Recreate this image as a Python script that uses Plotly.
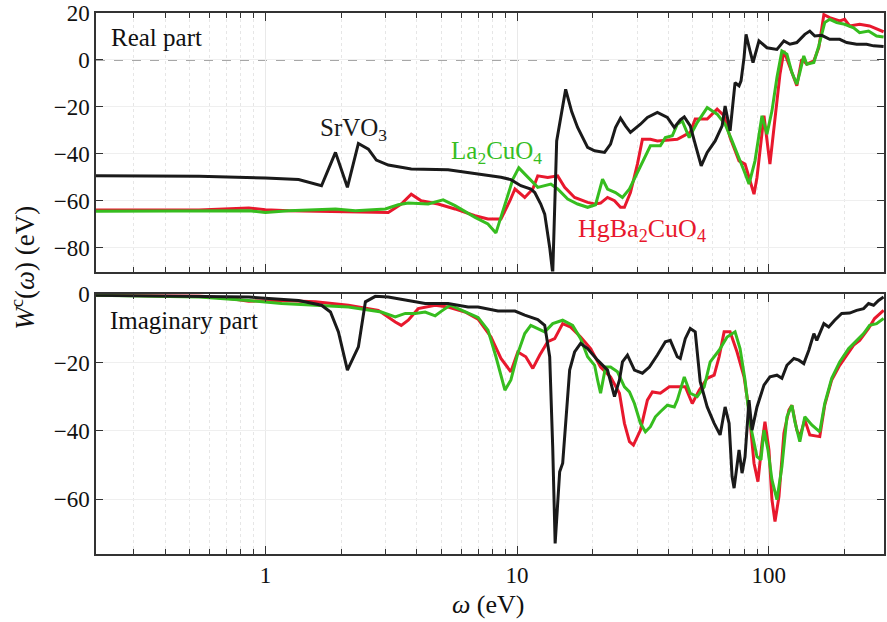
import plotly.graph_objects as go

# ---------------- data (omega in eV, W^c in eV) ----------------
sr_re_w = [0.212, 0.545, 1.0, 1.355, 1.671, 1.899, 2.118, 2.342, 2.566, 2.760, 3.079, 3.798, 5.32, 7.19,
           8.63, 9.45, 10.35, 11.34, 11.76, 12.42, 12.88, 13.48, 13.86, 14.37, 15.6, 16.48, 17.4, 19.07,
           20.33, 22.27, 23.52, 24.61, 25.76, 26.96, 28.22, 30.92, 32.95, 36.1, 39.54, 42.15, 44.52,
           46.18, 48.77, 51.04, 53.91, 56.95, 61.26, 65.28, 67.09, 70.22, 73.49, 76.22, 77.62, 79.78,
           81.24, 84.27, 86.61, 91.46, 98.38, 107.8, 114.9, 121.4, 129.3, 139.1, 145.6, 152.4, 162.4,
           174.7, 191.4, 204.0, 223.5, 244.8, 261.0, 286.0]
sr_re_v = [-49.4, -49.6, -50.3, -51.0, -53.6, -39.4, -54.3, -35.6, -38.0, -42.7, -44.8, -46.5, -46.8, -48.6,
           -50.0, -51.0, -53.6, -55.0, -56.5, -61.4, -65.7, -79.9, -91.0, -34.5, -12.5, -22.0, -28.8, -37.3,
           -38.7, -39.4, -35.9, -28.8, -24.8, -28.1, -30.9, -27.4, -24.5, -22.4, -24.5, -28.8, -25.5,
           -24.3, -28.1, -35.9, -45.1, -39.4, -34.5, -28.1, -19.6, -30.2, -9.7, -11.0, -8.9, 1.0,
           10.9, 3.8, -1.1, 8.1, 5.2, 4.5, 8.1, 6.7, 7.4, 10.9, 12.3, 10.2, 10.5,
           8.8, 8.8, 7.4, 6.7, 6.7, 6.0, 5.7]

hg_re_w = [0.212, 0.545, 0.859, 1.0, 1.237, 1.951, 3.079, 3.467, 3.798, 4.16, 4.858, 5.67, 6.81, 7.66, 8.63,
           9.37, 9.81, 10.73, 11.55, 12.085, 13.24, 14.5, 15.46, 16.93, 19.07, 20.33, 21.47, 22.88, 24.39,
           25.76, 26.71, 28.22, 30.08, 31.49, 33.87, 36.1, 39.54, 43.32, 48.77, 51.04, 56.95, 62.37, 66.49,
           70.22, 76.22, 80.5, 84.27, 87.4, 89.81, 95.74, 101.1, 105.9, 110.8, 114.9, 121.4, 129.3, 135.3,
           141.7, 151.1, 158.1, 165.6, 174.7, 191.4, 200.3, 209.7, 229.7, 251.6, 268.2, 286.0]
hg_re_v = [-64.0, -64.0, -63.1, -63.8, -64.3, -64.5, -65.0, -61.4, -57.2, -60.0, -61.4, -63.5, -66.4, -67.8, -67.8,
           -60.0, -55.0, -58.6, -55.0, -49.4, -50.1, -49.4, -54.3, -58.6, -60.7, -61.4, -61.0, -58.6, -60.0,
           -62.8, -62.8, -56.5, -44.4, -33.8, -33.8, -34.5, -34.0, -33.8, -30.9, -25.2, -25.2, -21.0, -23.8,
           -33.1, -43.0, -44.4, -51.5, -57.2, -50.1, -23.8, -44.4, -26.0, -6.1, 3.8, -3.3, -11.0, 0.3,
           -1.8, -0.4, 5.2, 19.3, 18.0, 16.6, 17.3, 14.5, 15.2, 14.5, 13.1, 12.0]

la_re_w = [0.212, 0.859, 1.0, 1.237, 1.899, 2.279, 2.996, 3.373, 3.695, 4.434, 5.085, 5.67, 6.81, 7.66, 8.244,
           8.869, 9.37, 9.628, 10.16, 11.23, 12.085, 13.62, 14.5, 15.89, 17.4, 19.07, 20.51, 21.86, 22.88,
           24.61, 26.23, 27.97, 30.08, 32.07, 33.87, 37.1, 38.83, 41.39, 43.32, 45.34, 48.32, 51.98, 56.95,
           62.37, 67.09, 71.51, 76.22, 79.78, 83.5, 88.19, 94.0, 98.38, 103.0, 107.8, 112.8, 118.1, 123.6,
           129.3, 132.9, 137.8, 141.7, 151.1, 158.1, 166.9, 174.7, 186.2, 200.3, 217.5, 229.7, 249.3, 268.2, 286.0]
la_re_v = [-64.5, -64.3, -65.0, -64.3, -63.5, -64.3, -63.5, -61.7, -61.0, -61.4, -59.6, -62.1, -67.1, -69.9, -73.7,
           -63.0, -54.3, -50.8, -46.0, -50.8, -54.3, -52.9, -55.0, -59.3, -61.4, -62.8, -61.7, -50.8, -55.0,
           -56.5, -58.6, -55.0, -47.9, -41.6, -36.6, -36.6, -33.1, -32.3, -27.4, -26.0, -33.1, -26.7, -20.3,
           -23.1, -27.4, -34.5, -41.6, -47.2, -52.9, -43.0, -23.8, -31.6, -21.7, -7.5, 3.8, 2.4, -5.4,
           -10.3, -5.4, 1.7, -1.8, -1.1, 6.0, 15.9, 17.3, 15.9, 15.2, 13.7, 11.6, 12.3, 10.2, 9.8]

sr_im_w = [0.212, 0.859, 1.355, 1.671, 1.814, 1.951, 2.118, 2.342, 2.497, 2.735, 3.079, 3.695, 4.314, 5.32,
           6.387, 7.0, 8.396, 9.81, 10.73, 12.085, 12.88, 13.48, 13.86, 14.17, 14.5, 14.77, 15.18, 15.6,
           16.18, 16.93, 17.89, 19.07, 20.89, 22.88, 24.39, 25.52, 26.23, 27.46, 29.27, 31.49, 33.56, 36.1,
           38.83, 40.64, 43.32, 44.52, 46.6, 48.77, 51.04, 53.43, 56.95, 60.71, 64.1, 67.09, 69.58, 71.51,
           72.83, 76.22, 78.33, 80.5, 83.5, 85.82, 89.81, 95.74, 101.1, 107.8, 112.8, 118.1, 125.9, 131.7,
           137.8, 144.3, 151.1, 155.2, 165.6, 173.1, 182.8, 194.9, 209.7, 223.5, 238.2, 249.3, 261.0, 273.1, 286.0]
sr_im_v = [-0.3, -0.8, -1.8, -3.2, -5.2, -11.0, -22.2, -15.4, -2.2, -0.6, -0.8, -1.8, -2.7, -2.7,
           -3.7, -3.7, -4.9, -4.9, -6.1, -7.4, -9.1, -18.3, -45.0, -73.0, -62.0, -52.0, -49.5, -37.8,
           -22.2, -16.9, -14.4, -15.9, -19.3, -22.2, -30.0, -25.1, -19.8, -17.8, -22.2, -23.1, -21.3, -17.8,
           -13.9, -13.5, -18.3, -18.8, -13.0, -10.0, -11.0, -25.6, -33.0, -37.8, -41.2, -33.0, -37.8, -53.4,
           -56.8, -45.6, -52.4, -47.6, -31.0, -39.8, -33.0, -26.6, -24.2, -23.7, -24.6, -20.8, -18.8, -19.3,
           -20.3, -16.4, -11.5, -13.5, -8.6, -9.6, -7.6, -5.6, -5.5, -4.7, -4.2, -2.7, -3.2, -1.8, -0.8]

hg_im_w = [0.212, 0.545, 0.735, 0.859, 1.16, 1.582, 2.138, 2.81, 3.282, 3.467, 3.695, 4.048, 4.727, 5.32,
           6.215, 7.0, 7.877, 8.63, 9.45, 10.07, 10.83, 11.55, 12.31, 13.24, 14.11, 15.18, 16.33, 17.89,
           19.6, 21.47, 23.52, 25.52, 26.71, 27.97, 29.0, 30.92, 32.95, 34.49, 37.1, 40.27, 43.32, 46.6,
           49.67, 52.94, 56.95, 60.71, 63.52, 66.49, 70.22, 74.84, 79.78, 83.5, 87.4, 90.6, 94.0, 96.6,
           100.2, 103.0, 105.9, 109.8, 114.9, 120.3, 123.6, 129.3, 132.9, 139.1, 145.6, 159.5, 166.9,
           177.9, 191.4, 204.0, 217.5, 229.7, 249.3, 263.3, 286.0]
hg_im_v = [-0.3, -0.5, -1.3, -2.0, -1.8, -2.2, -3.2, -4.7, -8.1, -9.1, -7.6, -4.2, -3.2, -3.7,
           -5.2, -7.3, -12.5, -18.8, -22.7, -16.9, -18.3, -21.7, -17.8, -13.9, -13.0, -8.6, -9.6, -12.5,
           -15.9, -21.3, -24.2, -29.0, -37.8, -43.2, -44.2, -39.8, -31.0, -28.6, -29.0, -27.1, -27.1, -27.1,
           -32.0, -28.1, -24.6, -23.7, -18.3, -11.0, -11.0, -16.9, -24.2, -33.9, -49.5, -54.9, -43.7, -37.3,
           -45.6, -60.2, -66.6, -59.3, -40.7, -33.9, -32.5, -39.8, -41.7, -36.8, -41.2, -41.7, -32.5,
           -25.1, -20.8, -17.8, -14.9, -13.5, -10.0, -7.1, -4.7]

la_im_w = [0.212, 0.545, 0.859, 1.16, 1.582, 2.138, 2.889, 3.282, 3.596, 3.939, 4.314, 4.727, 4.993, 5.42,
           5.83, 6.387, 7.0, 7.664, 8.244, 8.95, 9.45, 10.07, 10.73, 11.34, 12.085, 12.88, 13.86, 15.18,
           16.63, 17.89, 19.07, 20.33, 20.89, 21.47, 22.47, 23.52, 25.06, 26.71, 27.97, 29.27, 30.92, 32.36,
           33.87, 35.45, 37.1, 39.54, 42.15, 43.32, 46.18, 48.77, 51.98, 55.41, 58.53, 63.52, 68.32, 73.49,
           76.92, 80.5, 84.27, 89.81, 93.15, 95.74, 99.3, 103.0, 107.8, 112.8, 118.1, 123.6, 127.0, 132.9,
           139.1, 148.3, 159.5, 166.9, 177.9, 191.4, 207.8, 223.5, 238.2, 251.6, 268.2, 286.0]
la_im_v = [-0.3, -0.8, -1.8, -2.7, -3.2, -3.7, -5.2, -6.6, -5.6, -5.6, -5.2, -6.3, -5.0, -3.2,
           -4.2, -5.6, -6.8, -10.5, -18.3, -28.1, -25.1, -17.3, -11.5, -9.1, -10.0, -11.0, -8.6, -7.6,
           -9.1, -13.0, -18.3, -20.8, -25.1, -29.0, -21.3, -21.3, -22.7, -27.1, -28.6, -32.0, -37.8, -40.3,
           -38.8, -35.9, -34.4, -32.5, -33.0, -31.0, -24.2, -29.0, -30.0, -27.1, -19.8, -16.4, -12.5, -11.0,
           -15.9, -25.1, -37.8, -47.6, -48.5, -39.8, -45.6, -54.4, -60.2, -50.5, -35.9, -32.5, -37.3, -43.2,
           -35.9, -38.3, -40.3, -32.0, -24.6, -19.8, -15.9, -13.5, -11.5, -9.1, -8.6, -7.1]

x_major = [1, 10, 100]
x_major_text = ["1", "10", "100"]
x_minor = [m * 10 ** e for e in (-1, 0, 1, 2) for m in range(2, 10) if 0.212 <= m * 10 ** e <= 286]
y_top_ticks = [20, 0, -20, -40, -60, -80]
y_bot_ticks = [0, -20, -40, -60]

# ---------------- styles ----------------
BLACK = "#1a1a1a"
RED = "#e8182d"
GREEN = "#36bd1f"
FONT = "Liberation Serif"
LW = 3.0

fig = go.Figure()

series = [
    (hg_re_w, hg_re_v, RED, "x", "y"),
    (la_re_w, la_re_v, GREEN, "x", "y"),
    (sr_re_w, sr_re_v, BLACK, "x", "y"),
    (hg_im_w, hg_im_v, RED, "x2", "y2"),
    (la_im_w, la_im_v, GREEN, "x2", "y2"),
    (sr_im_w, sr_im_v, BLACK, "x2", "y2"),
]
for w, v, c, xa, ya in series:
    fig.add_trace(go.Scatter(x=w, y=v, mode="lines", line=dict(color=c, width=LW),
                             xaxis=xa, yaxis=ya, showlegend=False, hoverinfo="skip",
                             cliponaxis=True))

tick_font = dict(family=FONT, size=23, color="#111")
xcommon = dict(
    type="log", range=[-0.673, 2.458], tickvals=x_major, ticktext=x_major_text,
    ticks="inside", ticklen=8, tickwidth=1.2, tickcolor="#333",
    showline=True, linecolor="#333", linewidth=1.5, mirror="allticks",
    showgrid=True, gridcolor="#e9e9e9", gridwidth=1,
    minor=dict(tickvals=x_minor, ticks="inside", ticklen=5, tickwidth=1.1, tickcolor="#333",
               showgrid=True, gridcolor="#e6e6e6", griddash="dot", gridwidth=1),
    tickfont=tick_font, zeroline=False,
)
ycommon = dict(
    ticks="inside", ticklen=7, tickwidth=1.2, tickcolor="#333",
    showline=True, linecolor="#333", linewidth=1.5, mirror="allticks",
    showgrid=True, gridcolor="#efefef", gridwidth=1, zeroline=False,
    tickfont=tick_font,
)

fig.update_layout(
    width=887, height=622,
    margin=dict(l=96, r=1, t=12, b=68),
    paper_bgcolor="white", plot_bgcolor="white",
    font=dict(family=FONT),
    xaxis=dict(xcommon, anchor="y", matches="x2", showticklabels=False),
    xaxis2=dict(xcommon, anchor="y2"),
    yaxis=dict(ycommon, domain=[0.522, 1.0], range=[-90.2, 20], tickvals=y_top_ticks),
    yaxis2=dict(ycommon, domain=[0.0, 0.480], range=[-76.1, 0], tickvals=y_bot_ticks),
)

# dashed zero line in the real-part panel
fig.add_shape(type="line", xref="x domain", x0=0, x1=1, yref="y", y0=0, y1=0,
              line=dict(color="#8a8a8a", width=1.4, dash="dash"), layer="below")

def label(text, x, y, color, xanchor="center", size=25, angle=0):
    fig.add_annotation(text=text, xref="paper", yref="paper", x=x, y=y, xanchor=xanchor,
                       yanchor="middle", showarrow=False, textangle=angle,
                       font=dict(family=FONT, size=size, color=color))

label("Real part", 0.017, 0.954, "#111", xanchor="left")
label("Imaginary part", 0.015, 0.432, "#111", xanchor="left")
label("SrVO<sub>3</sub>", 0.327, 0.785, BLACK)
label("La<sub>2</sub>CuO<sub>4</sub>", 0.508, 0.742, GREEN)
label("HgBa<sub>2</sub>CuO<sub>4</sub>", 0.693, 0.598, RED, size=26)
label("<i>W</i><sup>c</sup>(<i>ω</i>) (eV)", -0.092, 0.528, "#111", size=27, angle=-90)
label("<i>ω</i> (eV)", 0.498, -0.094, "#111", size=26)

fig.write_html("out.html")
